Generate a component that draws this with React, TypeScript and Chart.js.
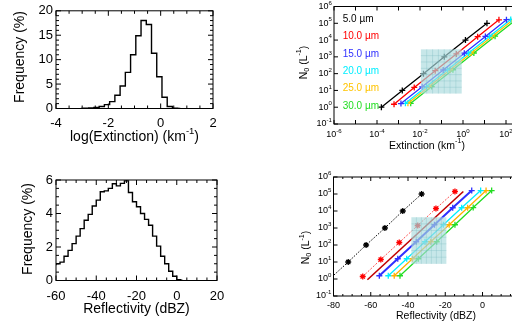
import React, { useEffect, useRef } from 'react';
import { Chart, registerables } from 'chart.js';
Chart.register(...registerables);

const FAMILY = "'Liberation Sans', Arial, Helvetica, sans-serif";
Chart.defaults.color = '#000';
Chart.defaults.font.family = FAMILY;

// ---------------- Top-left: log(Extinction) histogram ----------------
const extBinCenters = [-3.05, -2.85, -2.65, -2.45, -2.25, -2.05, -1.85, -1.65, -1.45, -1.25, -1.05, -0.85, -0.65, -0.45, -0.25, -0.05, 0.15, 0.35, 0.55, 0.75];
const extFrequency = [0.02, 0.05, 0.1, 0.2, 0.4, 0.8, 1.4, 2.7, 4.6, 7.4, 11.0, 14.9, 18.0, 17.2, 11.3, 6.5, 2.3, 0.4, 0.05, 0];

// ---------------- Bottom-left: Reflectivity histogram ----------------
const dbzBinCenters = [-61, -59, -57, -55, -53, -51, -49, -47, -45, -43, -41, -39, -37, -35, -33, -31, -29, -27, -25, -23, -21, -19, -17, -15, -13, -11, -9, -7, -5, -3, -1, 1, 3];
const dbzFrequency = [0.95, 1.0, 1.1, 1.45, 1.8, 2.2, 2.65, 3.1, 3.6, 3.95, 4.45, 4.8, 5.3, 5.35, 5.5, 5.78, 5.65, 5.8, 5.95, 5.25, 4.7, 4.4, 4.0, 3.65, 3.3, 2.65, 2.05, 1.45, 1.0, 0.55, 0.25, 0.05, 0];

// ---------------- Series names ----------------
const sizeLabels = ['5.0 µm', '10.0 µm', '15.0 µm', '20.0 µm', '25.0 µm', '30.0 µm'];

// ---------------- Top-right: N0 vs Extinction ----------------
const ext5 = [1.6e-4, 1.5e-3, 1.45e-2, 0.135, 1.3, 13];
const n0ext5 = [1, 10, 100, 1e3, 1e4, 1e5];
const ext10 = [6.2e-4, 5.4e-3, 5.1e-2, 0.49, 4.8, 47];
const n0ext10 = [1.5, 15, 150, 1.5e3, 1.6e4, 1.6e5];
const ext15 = [1.3e-3, 1.26e-2, 0.12, 1.15, 11, 105];
const n0ext15 = [1.65, 16.5, 165, 1.65e3, 1.65e4, 1.65e5];
const ext20 = [2.1e-3, 2.0e-2, 0.19, 1.8, 17.4, 166];
const n0ext20 = [1.7, 17, 170, 1.7e3, 1.7e4, 1.7e5];
const ext25 = [2.75e-3, 2.6e-2, 0.25, 2.4, 23, 220];
const n0ext25 = [1.7, 17, 170, 1.7e3, 1.7e4, 1.7e5];
const ext30 = [3.7e-3, 3.5e-2, 0.34, 3.2, 31, 300];
const n0ext30 = [1.7, 17, 170, 1.7e3, 1.7e4, 1.7e5];
const extBoxX = [0.011, 0.87];
const extBoxY = [6.5, 2800];

// ---------------- Bottom-right: N0 vs Reflectivity ----------------
const dbz5 = [-82.1, -72.1, -62.5, -52.4, -42.8, -32.7];
const n0dbz5 = [1, 10, 100, 1e3, 1e4, 1e5];
const dbz10 = [-64.3, -54.6, -44.7, -34.8, -25.0, -14.8];
const n0dbz10 = [1.4, 14, 140, 1.4e3, 1.4e4, 1.4e5];
const dbz10b = [-61.8, -10.3];
const n0dbz10b = [0.9, 1.4e5];
const dbz15 = [-55.4, -45.5, -35.6, -25.8, -16.0, -5.8];
const n0dbz15 = [1.55, 15.5, 155, 1.55e3, 1.55e4, 1.6e5];
const dbz20 = [-50.6, -40.7, -30.9, -21.0, -11.2, -1.0];
const n0dbz20 = [1.55, 15.5, 155, 1.55e3, 1.55e4, 1.6e5];
const dbz25 = [-47.4, -37.6, -27.8, -17.9, -8.0, 1.9];
const n0dbz25 = [1.55, 15.5, 155, 1.55e3, 1.55e4, 1.6e5];
const dbz30 = [-44.3, -34.5, -24.6, -14.8, -5.0, 4.9];
const n0dbz30 = [1.55, 15.5, 155, 1.55e3, 1.6e4, 1.6e5];
const dbzBoxX = [-38.2, -19.4];
const dbzBoxY = [7.8, 4300];

// tick label exponents
const extTickExps = [-6, -4, -2, 0, 2];
const n0TickExps = [-1, 0, 1, 2, 3, 4, 5, 6];

// ---------------- styles ----------------
const sizeColors = ['#000000', '#ff0000', '#3030ff', '#00eeff', '#ffc400', '#22dd22'];

type Part = { t: string; s?: string };

function drawParts(ctx: any, parts: Part[], x: number, y: number, size: number, align: string, rotate = false, color = '#000') {
  ctx.save();
  ctx.translate(x, y);
  if (rotate) ctx.rotate(-Math.PI / 2);
  const small = size * 0.68;
  const widths = parts.map((p) => {
    ctx.font = `${p.s ? small : size}px ${FAMILY}`;
    return ctx.measureText(p.t).width;
  });
  const total = widths.reduce((a, b) => a + b, 0);
  let cx = align === 'center' ? -total / 2 : align === 'right' ? -total : 0;
  ctx.fillStyle = color;
  ctx.textAlign = 'left';
  ctx.textBaseline = 'middle';
  parts.forEach((p, i) => {
    ctx.font = `${p.s ? small : size}px ${FAMILY}`;
    const dy = p.s === 'sup' ? -size * 0.4 : p.s === 'sub' ? size * 0.3 : 0;
    ctx.fillText(p.t, cx, dy);
    cx += widths[i];
  });
  ctx.restore();
}

function linTicks(min: number, max: number, step: number) {
  const out: number[] = [];
  for (let k = Math.ceil(min / step - 1e-9); k * step <= max + 1e-9; k++) out.push(k * step);
  return out;
}
function logTicks(min: number, max: number) {
  const out: number[] = [];
  for (let e = Math.ceil(Math.log10(min) - 1e-9); e <= Math.floor(Math.log10(max) + 1e-9); e++) out.push(Math.pow(10, e));
  return out;
}
const isMult = (v: number, m: number) => Math.abs(v / m - Math.round(v / m)) < 1e-6;

const decorPlugin = {
  id: 'decor',
  afterDatasetsDraw(chart: any) {
    const o = chart.options.plugins.decor;
    if (!o || !o.box) return;
    const { ctx } = chart;
    const xs = chart.scales.x, ys = chart.scales.y;
    const x0 = xs.getPixelForValue(o.box.x[0]), x1 = xs.getPixelForValue(o.box.x[1]);
    const y0 = ys.getPixelForValue(o.box.y[0]), y1 = ys.getPixelForValue(o.box.y[1]);
    const l = Math.min(x0, x1), t = Math.min(y0, y1), w = Math.abs(x1 - x0), h = Math.abs(y1 - y0);
    ctx.save();
    ctx.fillStyle = 'rgba(170,218,222,0.66)';
    ctx.fillRect(l, t, w, h);
    ctx.strokeStyle = 'rgba(120,185,192,0.45)';
    ctx.lineWidth = 0.7;
    ctx.beginPath();
    const n = 7;
    for (let i = 1; i < n; i++) {
      ctx.moveTo(l + (w * i) / n, t);
      ctx.lineTo(l + (w * i) / n, t + h);
      ctx.moveTo(l, t + (h * i) / n);
      ctx.lineTo(l + w, t + (h * i) / n);
    }
    ctx.stroke();
    ctx.restore();
  },
  afterDraw(chart: any) {
    const o = chart.options.plugins.decor;
    if (!o) return;
    const { ctx, chartArea: a } = chart;
    const xs = chart.scales.x, ys = chart.scales.y;
    const ox = o.origin[0], oy = o.origin[1];
    ctx.save();
    ctx.strokeStyle = '#000';
    ctx.lineWidth = 1;
    ctx.strokeRect(a.left, a.top, a.right - a.left, a.bottom - a.top);
    const axisTicks = (scale: any, spec: any, horizontal: boolean) => {
      const vals = spec.log ? logTicks(scale.min, scale.max) : linTicks(scale.min, scale.max, spec.minor);
      ctx.beginPath();
      vals.forEach((v: number) => {
        const major = spec.log ? true : isMult(v, spec.major);
        const len = major ? o.majorLen : o.minorLen;
        const p = scale.getPixelForValue(v);
        if (horizontal) {
          ctx.moveTo(p, a.bottom); ctx.lineTo(p, a.bottom - len);
          ctx.moveTo(p, a.top); ctx.lineTo(p, a.top + len);
        } else {
          ctx.moveTo(a.left, p); ctx.lineTo(a.left + len, p);
          ctx.moveTo(a.right, p); ctx.lineTo(a.right - len, p);
        }
      });
      ctx.stroke();
    };
    axisTicks(xs, o.xt, true);
    axisTicks(ys, o.yt, false);
    if (o.logX) {
      o.logX.exps.forEach((e: number) => {
        const p = xs.getPixelForValue(Math.pow(10, e));
        drawParts(ctx, [{ t: '10' }, { t: String(e), s: 'sup' }], p, a.bottom + o.logX.offset, o.logX.size, 'center');
      });
    }
    if (o.logY) {
      o.logY.exps.forEach((e: number) => {
        const p = ys.getPixelForValue(Math.pow(10, e));
        drawParts(ctx, [{ t: '10' }, { t: String(e), s: 'sup' }], a.left - o.logY.gap, p, o.logY.size, 'right');
      });
    }
    (o.titles || []).forEach((tt: any) => {
      drawParts(ctx, tt.parts, tt.x - ox, tt.y - oy, tt.size, 'center', !!tt.rotate);
    });
    if (o.legend) {
      const lg = o.legend;
      lg.labels.forEach((lab: string, i: number) => {
        drawParts(ctx, [{ t: lab }], lg.x - ox, lg.y - oy + i * lg.dy, lg.size, 'left', false, lg.colors[i]);
      });
    }
    ctx.restore();
  },
};

type Geo = { left: number; top: number; w: number; h: number; L: number; T: number; R: number; B: number };

function makeConfig(g: Geo, datasets: any[], xScale: any, yScale: any, decor: any): any {
  return {
    type: 'line',
    data: { datasets },
    options: {
      animation: false,
      responsive: false,
      maintainAspectRatio: false,
      devicePixelRatio: 1,
      events: [],
      layout: { padding: { left: 0, top: g.T - g.top, right: g.left + g.w - g.R, bottom: 0 } },
      plugins: {
        legend: { display: false },
        tooltip: { enabled: false },
        decor: { ...decor, origin: [g.left, g.top] },
      },
      scales: {
        x: {
          ...xScale,
          position: 'bottom',
          grid: { display: false, drawTicks: false },
          border: { display: false },
          afterFit: (s: any) => { s.height = g.top + g.h - g.B; },
        },
        y: {
          ...yScale,
          position: 'left',
          grid: { display: false, drawTicks: false },
          border: { display: false },
          afterFit: (s: any) => { s.width = g.L - g.left; },
        },
      },
    },
    plugins: [decorPlugin],
  };
}

const pts = (xs: number[], ys: number[]) => xs.map((x, i) => ({ x, y: ys[i] }));

const geoTL: Geo = { left: 0, top: 0, w: 256, h: 160, L: 56, T: 8.5, R: 213, B: 108.5 };
const geoBL: Geo = { left: 0, top: 160, w: 256, h: 162, L: 56, T: 180, R: 217, B: 280.5 };
const geoTR: Geo = { left: 256, top: 0, w: 300, h: 160, L: 334, T: 6.5, R: 527.5, B: 124 };
const geoBR: Geo = { left: 256, top: 160, w: 300, h: 162, L: 333.5, T: 177, R: 538.4, B: 296 };

const histDataset = (xs: number[], ys: number[]) => ({
  data: pts(xs, ys), stepped: 'middle', borderColor: '#000', borderWidth: 1.4, pointRadius: 0, fill: false,
});

function configTL() {
  return makeConfig(
    geoTL,
    [histDataset(extBinCenters, extFrequency)],
    { type: 'linear', min: -4, max: 2, ticks: { stepSize: 2, font: { size: 13 }, padding: 7.4, maxRotation: 0, autoSkip: false } },
    { type: 'linear', min: 0, max: 20, ticks: { stepSize: 5, font: { size: 13 }, padding: 3 } },
    {
      xt: { minor: 0.5, major: 2 }, yt: { minor: 1, major: 5 }, majorLen: 5, minorLen: 3,
      titles: [
        { parts: [{ t: 'log(Extinction) (km' }, { t: '-1', s: 'sup' }, { t: ')' }], x: 134.5, y: 137, size: 14 },
        { parts: [{ t: 'Frequency (%)' }], x: 20, y: 57, size: 14, rotate: true },
      ],
    }
  );
}

function configBL() {
  return makeConfig(
    geoBL,
    [histDataset(dbzBinCenters, dbzFrequency)],
    { type: 'linear', min: -60, max: 20, ticks: { stepSize: 20, font: { size: 13 }, padding: 8.4, maxRotation: 0, autoSkip: false } },
    { type: 'linear', min: 0, max: 6, ticks: { stepSize: 2, font: { size: 13 }, padding: 3 } },
    {
      xt: { minor: 5, major: 20 }, yt: { minor: 0.5, major: 2 }, majorLen: 5, minorLen: 3,
      titles: [
        { parts: [{ t: 'Reflectivity (dBZ)' }], x: 136.5, y: 309, size: 14 },
        { parts: [{ t: 'Frequency (%)' }], x: 28.5, y: 229, size: 14, rotate: true },
      ],
    }
  );
}

const seriesDataset = (xs: number[], ys: number[], color: string, extra: any = {}) => ({
  data: pts(xs, ys), borderColor: color, backgroundColor: color, borderWidth: 1.3,
  pointStyle: 'cross', pointRadius: 3, pointBorderWidth: 1.3, pointBorderColor: color, fill: false, ...extra,
});

function configTR() {
  const xsArr = [ext5, ext10, ext15, ext20, ext25, ext30];
  const ysArr = [n0ext5, n0ext10, n0ext15, n0ext20, n0ext25, n0ext30];
  const ds = xsArr.map((xs, i) => seriesDataset(xs, ysArr[i], sizeColors[i]));
  return makeConfig(
    geoTR,
    ds,
    { type: 'logarithmic', min: 1e-6, max: 1e3, ticks: { display: false } },
    { type: 'logarithmic', min: 0.1, max: 1e6, ticks: { display: false } },
    {
      xt: { log: true }, yt: { log: true }, majorLen: 4, minorLen: 2,
      box: { x: extBoxX, y: extBoxY },
      logX: { exps: extTickExps, offset: 11, size: 9 },
      logY: { exps: n0TickExps, gap: 2, size: 9 },
      titles: [
        { parts: [{ t: 'Extinction (km' }, { t: '-1', s: 'sup' }, { t: ')' }], x: 427, y: 145.7, size: 10.5 },
        { parts: [{ t: 'N' }, { t: '0', s: 'sub' }, { t: ' (L' }, { t: '-1', s: 'sup' }, { t: ')' }], x: 303.7, y: 62.5, size: 10.5, rotate: true },
      ],
      legend: { labels: sizeLabels, colors: sizeColors, x: 342.7, y: 19.3, dy: 17.3, size: 10 },
    }
  );
}

function configBR() {
  const ds = [
    seriesDataset(dbz5, n0dbz5, '#000000', { borderWidth: 1, borderDash: [1.5, 1.5], pointStyle: 'star', pointRadius: [0, 3, 3, 3, 3, 3] }),
    seriesDataset(dbz10, n0dbz10, '#ff0000', { borderColor: '#ff5050', borderWidth: 1, borderDash: [2, 1.5], pointStyle: 'star' }),
    seriesDataset(dbz10b, n0dbz10b, '#c00000', { borderWidth: 1.6, pointRadius: 0 }),
    seriesDataset(dbz15, n0dbz15, '#3030ff', { borderWidth: 2 }),
    seriesDataset(dbz20, n0dbz20, '#00eeff'),
    seriesDataset(dbz25, n0dbz25, '#ffb000'),
    seriesDataset(dbz30, n0dbz30, '#22dd22'),
  ];
  return makeConfig(
    geoBR,
    ds,
    { type: 'linear', min: -80, max: 30, ticks: { stepSize: 20, font: { size: 9 }, padding: 4.3, maxRotation: 0, autoSkip: false } },
    { type: 'logarithmic', min: 0.1, max: 1e6, ticks: { display: false } },
    {
      xt: { minor: 5, major: 20 }, yt: { log: true }, majorLen: 4, minorLen: 2,
      box: { x: dbzBoxX, y: dbzBoxY },
      logY: { exps: n0TickExps, gap: 2, size: 9 },
      titles: [
        { parts: [{ t: 'Reflectivity (dBZ)' }], x: 436, y: 315.7, size: 10.5 },
        { parts: [{ t: 'N' }, { t: '0', s: 'sub' }, { t: ' (L' }, { t: '-1', s: 'sup' }, { t: ')' }], x: 306, y: 247.5, size: 10.5, rotate: true },
      ],
    }
  );
}

function Panel({ geo, make }: { geo: Geo; make: () => any }) {
  const ref = useRef<HTMLCanvasElement | null>(null);
  useEffect(() => {
    if (!ref.current) return;
    const chart = new Chart(ref.current, make());
    return () => chart.destroy();
  }, []);
  return (
    <canvas
      ref={ref}
      width={geo.w}
      height={geo.h}
      style={{ position: 'absolute', left: geo.left, top: geo.top, width: geo.w, height: geo.h }}
    />
  );
}

export default function App() {
  useEffect(() => {
    document.body.style.margin = '0';
    document.body.style.overflow = 'hidden';
  }, []);
  return (
    <div style={{ position: 'fixed', left: 0, top: 0, width: 512, height: 322, overflow: 'hidden', background: '#fff' }}>
      <Panel geo={geoTL} make={configTL} />
      <Panel geo={geoBL} make={configBL} />
      <Panel geo={geoTR} make={configTR} />
      <Panel geo={geoBR} make={configBR} />
    </div>
  );
}
